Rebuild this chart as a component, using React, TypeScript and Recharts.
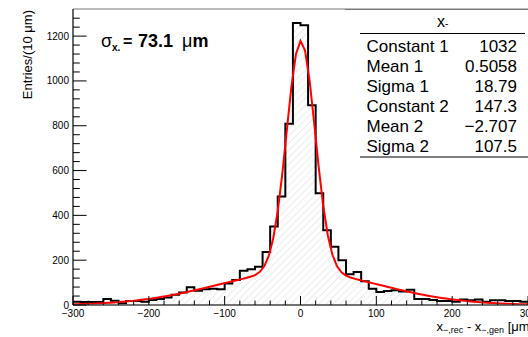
import React from 'react'
import { ComposedChart, Area, Line, XAxis, YAxis, ReferenceLine, Label } from 'recharts'

// entries per 10 um bin, residual x_rec - x_gen from -300 to 300 um
const binLowEdges = Array.from({ length: 60 }, (_, i) => -300 + 10 * i)
const entries = [
  15, 13, 13, 13, 27, 19, 8, 18, 18, 15,
  22, 27, 34, 46, 56, 79, 64, 70, 72, 70,
  96, 112, 153, 160, 171, 237, 350, 484, 809, 1259,
  1249, 891, 499, 334, 260, 200, 137, 147, 106, 72,
  58, 63, 66, 60, 68, 27, 27, 22, 18, 18,
  15, 25, 21, 25, 15, 21, 21, 18, 18, 15,
]

// double gaussian fit results
const statNames = ['Constant 1', 'Mean 1', 'Sigma 1', 'Constant 2', 'Mean 2', 'Sigma 2']
const statValues = [1032, 0.5058, 18.79, 147.3, -2.707, 107.5]
const resolution = '73.1'

const xTicks = Array.from({ length: 31 }, (_, i) => -300 + 20 * i)
const yTicks = Array.from({ length: 33 }, (_, i) => 40 * i)
const yMax = 1321

const fmt = (v: number) => String(v).replace('-', '\u2212')

const gauss = (x: number, c: number, m: number, s: number) => c * Math.exp(-0.5 * ((x - m) / s) ** 2)
const [c1, m1, s1, c2, m2, s2] = statValues

// step outline needs a closing point at the upper edge
const histData = [
  ...binLowEdges.map((x, i) => ({ x, n: entries[i] })),
  { x: 300, n: entries[entries.length - 1] },
]

const fitData = Array.from({ length: 101 }, (_, i) => {
  const x = -300 + 6 * i
  return { x, f: gauss(x, c1, m1, s1) + gauss(x, c2, m2, s2) }
})

const font = 'Liberation Sans, Arial, Helvetica, sans-serif'

const XTick = (props: any) => {
  const { x, y, payload } = props
  const v = payload.value
  const major = v % 100 === 0
  return (
    <g>
      <line x1={x} y1={y} x2={x} y2={y - (major ? 9 : 4.5)} stroke="#000" strokeWidth={1} />
      {major && (
        <text x={x} y={y + 12} textAnchor="middle" fontSize={10} fill="#000" fontFamily={font}>
          {fmt(v)}
        </text>
      )}
    </g>
  )
}

const YTick = (props: any) => {
  const { x, y, payload } = props
  const v = payload.value
  const major = v % 200 === 0
  return (
    <g>
      <line x1={x} y1={y} x2={x + (major ? 13.6 : 6.8)} y2={y} stroke="#000" strokeWidth={1} />
      {major && (
        <text x={x - 4} y={y + 3.5} textAnchor="end" fontSize={10} fill="#000" fontFamily={font}>
          {v}
        </text>
      )}
    </g>
  )
}

export default function App() {
  return (
    <div style={{ position: 'absolute', left: 0, top: 0, width: 528, height: 337, background: '#fff', fontFamily: font }}>
      <ComposedChart width={528} height={337} data={histData} margin={{ top: 9, right: 0, bottom: 0, left: 0 }}>
        <defs>
          <pattern id="hatch" width="5" height="5" patternUnits="userSpaceOnUse" patternTransform="rotate(45)">
            <line x1="0" y1="0" x2="0" y2="5" stroke="#dadada" strokeWidth="1" />
          </pattern>
        </defs>
        <XAxis
          type="number"
          dataKey="x"
          domain={[-300, 300]}
          ticks={xTicks}
          interval={0}
          height={32}
          tickSize={0}
          tickMargin={0}
          tick={<XTick />}
          axisLine={{ stroke: '#444', strokeWidth: 1.5 }}
          allowDataOverflow
        >
          <Label
            content={() => (
              <text x={436.5} y={331} fontSize={13} fill="#000" fontFamily={font}>
                x<tspan fontSize={9} dy={2}>{'\u2212,rec'}</tspan>
                <tspan dy={-2}> - x</tspan>
                <tspan fontSize={9} dy={2}>{'\u2212,gen'}</tspan>
                <tspan dy={-2}> [μm]</tspan>
              </text>
            )}
          />
        </XAxis>
        <YAxis
          type="number"
          domain={[0, yMax]}
          ticks={yTicks}
          interval={0}
          width={73}
          tickSize={0}
          tickMargin={0}
          tick={<YTick />}
          axisLine={{ stroke: '#000', strokeWidth: 1.2 }}
          allowDataOverflow
        >
          <Label
            content={() => (
              <text transform="translate(31.5,10) rotate(-90)" textAnchor="end" fontSize={13} fill="#000" fontFamily={font}>
                Entries/(10 μm)
              </text>
            )}
          />
        </YAxis>
        <ReferenceLine y={yMax} stroke="#777" strokeWidth={1} />
        <Area
          type="stepAfter"
          dataKey="n"
          stroke="#000"
          strokeWidth={2}
          fill="url(#hatch)"
          fillOpacity={1}
          baseValue={0}
          dot={false}
          activeDot={false}
          isAnimationActive={false}
        />
        <Line
          data={fitData}
          type="linear"
          dataKey="f"
          stroke="#ff0000"
          strokeWidth={2}
          dot={false}
          activeDot={false}
          isAnimationActive={false}
        />
      </ComposedChart>

      <svg width={528} height={337} style={{ position: 'absolute', left: 0, top: 0, pointerEvents: 'none' }}>
        {/* resolution label */}
        <text y={47} fontSize={18} fontWeight="bold" fill="#000" fontFamily={font}>
          <tspan x={101} fontWeight="normal" fontSize={18}>σ</tspan>
          <tspan x={112} dy={4} fontSize={10}>x</tspan>
          <tspan fontSize={10}>.</tspan>
          <tspan x={123} dy={-4} fontSize={16}>=</tspan>
          <tspan x={138}>{resolution}</tspan>
          <tspan x={182} fontWeight="normal">μ</tspan>
          <tspan>m</tspan>
        </text>

        {/* stats box */}
        <rect x={358} y={9.5} width={170} height={147} fill="#fff" />
        <line x1={345} y1={9.5} x2={528} y2={9.5} stroke="#777" strokeWidth={1} />
        <text x={437} y={27} fontSize={16} fill="#000" fontFamily={font}>
          x<tspan fontSize={10}>-</tspan>
        </text>
        <line x1={360} y1={33.5} x2={525} y2={33.5} stroke="#000" strokeWidth={1} />
        {statNames.map((name, i) => (
          <g key={name}>
            <text x={366.5} y={52 + 20 * i} fontSize={17} fill="#000" fontFamily={font}>
              {name}
            </text>
            <text x={517} y={52 + 20 * i} fontSize={17} textAnchor="end" fill="#000" fontFamily={font}>
              {fmt(statValues[i])}
            </text>
          </g>
        ))}
        <line x1={360} y1={157} x2={528} y2={157} stroke="#000" strokeWidth={1} />
      </svg>
    </div>
  )
}
